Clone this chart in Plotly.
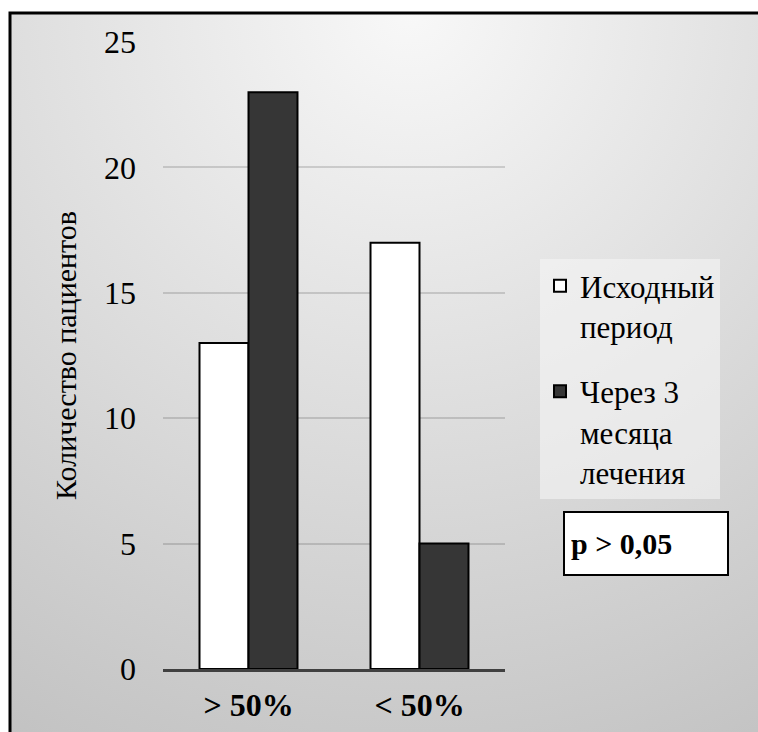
import base64
import plotly.graph_objects as go

# Response groups and patient counts per period
categories = ["> 50%", "< 50%"]
baseline_counts = [13, 17]
after_3_months_counts = [23, 5]
series_names = ["Исходный<br>период", "Через 3<br>месяца<br>лечения"]
y_ticks = [0, 5, 10, 15, 20, 25]
p_value_text = "p > 0,05"

W, H = 758, 732
ML, MR, MT, MB = 163, 253, 42, 63
PW, PH = W - ML - MR, H - MT - MB

FONT = "Liberation Serif"

# Soft radial backdrop with a thin frame on the top and left edges
svg = f"""<svg xmlns="http://www.w3.org/2000/svg" width="{W}" height="{H}" viewBox="0 0 {W} {H}">
<defs><radialGradient id="g" gradientUnits="userSpaceOnUse" cx="410" cy="10" r="830">
<stop offset="0" stop-color="#f8f8f8"/><stop offset="1" stop-color="#c2c2c2"/></radialGradient></defs>
<rect width="{W}" height="{H}" fill="#ffffff"/>
<rect x="10" y="14" width="{W}" height="{H}" fill="url(#g)"/>
<path d="M10,{H} V13 H{W}" fill="none" stroke="#000000" stroke-width="3"/>
</svg>"""
bg_src = "data:image/svg+xml;base64," + base64.b64encode(svg.encode()).decode()

fig = go.Figure()
fig.add_trace(go.Bar(
    x=categories, y=baseline_counts, name=series_names[0], legendgroup="a",
    marker=dict(color="#ffffff", line=dict(color="#000000", width=2)),
))
fig.add_trace(go.Bar(
    x=categories, y=after_3_months_counts, name=series_names[1], legendgroup="b",
    marker=dict(color="#363636", line=dict(color="#000000", width=2)),
))

fig.add_layout_image(dict(
    source=bg_src, xref="paper", yref="paper",
    x=-ML / PW, y=1 + MT / PH, sizex=W / PW, sizey=H / PH,
    xanchor="left", yanchor="top", sizing="stretch", layer="below",
))

fig.add_annotation(
    text=f"<b>{p_value_text}</b>", xref="paper", yref="paper",
    x=(646 - ML) / PW, y=1 - (543 - MT) / PH, xanchor="center", yanchor="middle",
    showarrow=False, align="left", width=150, height=49, borderpad=6,
    bgcolor="#ffffff", bordercolor="#000000", borderwidth=2,
    font=dict(family=FONT, size=30, color="#000000"),
)

fig.update_layout(
    template="none",
    width=W, height=H,
    margin=dict(l=ML, r=MR, t=MT, b=MB, autoexpand=False),
    paper_bgcolor="rgba(0,0,0,0)", plot_bgcolor="rgba(0,0,0,0)",
    barmode="group", bargap=0.427, bargroupgap=0,
    font=dict(family=FONT, color="#000000"),
    showlegend=True,
    legend=dict(
        x=(540 - ML) / PW, y=1 - (259 - MT) / PH, xanchor="left", yanchor="top",
        bgcolor="rgba(245,245,245,0.6)", borderwidth=0,
        font=dict(family=FONT, size=31, color="#000000"),
        tracegroupgap=22, valign="top", traceorder="grouped",
    ),
    xaxis=dict(
        showline=True, linecolor="#404040", linewidth=3, showgrid=False,
        ticks="", ticklabelstandoff=6, automargin=False,
        tickfont=dict(family=FONT, size=32, color="#000000"),
        tickprefix="<b>", ticksuffix="</b>",
    ),
    yaxis=dict(
        range=[0, 25], tickvals=y_ticks, showline=False, zeroline=False,
        showgrid=True, gridcolor="rgba(0,0,0,0.14)", gridwidth=2,
        ticks="", ticklabelstandoff=26, automargin=False,
        tickfont=dict(family=FONT, size=32, color="#000000"),
        title=dict(text="Количество пациентов", standoff=18,
                   font=dict(family=FONT, size=30, color="#000000")),
    ),
)

fig.write_html("out.html")
